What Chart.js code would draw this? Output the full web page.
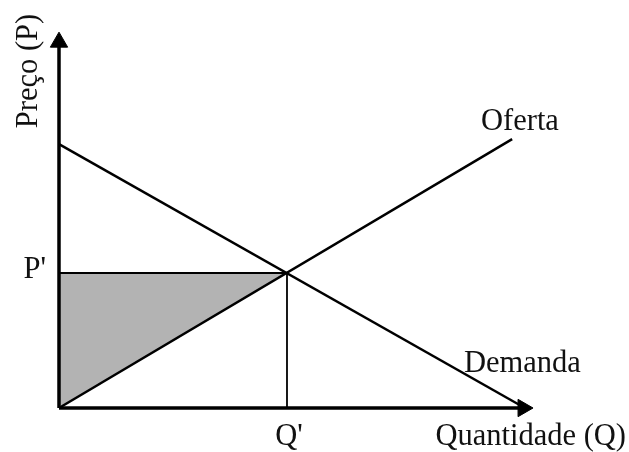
<!DOCTYPE html>
<html><head><meta charset="utf-8">
<script src="https://cdn.jsdelivr.net/npm/chart.js@4/dist/chart.umd.min.js"></script>
<style>html,body{margin:0;padding:0;background:#fff;overflow:hidden}</style>
</head><body>
<canvas id="c" width="629" height="452"></canvas>
<script>
// ---- data (axis units 0..100) ----
const equilibriumQ = 48.1;
const equilibriumP = 35.9;
const demandQ = [0, 98.3];
const demandP = [70.2, 0];
const supplyQ = [0, 95.6];
const supplyP = [0, 71.5];
const axisQ = [0, 97.9];   // x-axis line (arrow centre at end)
const axisP = [0, 97.3];   // y-axis line (arrow centre at end)
const axisLabels = {x: 'Quantidade (Q)', y: 'Preço (P)'};
const curveLabels = {supply: 'Oferta', demand: 'Demanda'};
const eqLabels = {p: "P'", q: "Q'"};

const pts = (xs, ys) => xs.map((x, i) => ({x, y: ys[i]}));

const textPlugin = {
  id: 'texts',
  afterDraw(chart) {
    const ctx = chart.ctx, xs = chart.scales.x, ys = chart.scales.y;
    const x0 = xs.getPixelForValue(0), y0 = ys.getPixelForValue(0);
    const qx = xs.getPixelForValue(equilibriumQ), py = ys.getPixelForValue(equilibriumP);
    ctx.save();
    ctx.fillStyle = '#111';
    ctx.font = '30.5px "Liberation Serif", "Times New Roman", serif';
    ctx.textBaseline = 'alphabetic';
    ctx.textAlign = 'right';
    ctx.fillText(eqLabels.p, x0 - 13, py + 5);
    ctx.textAlign = 'center';
    ctx.fillText(eqLabels.q, qx + 2, y0 + 37);
    ctx.textAlign = 'left';
    ctx.fillText(curveLabels.supply, 481, 130);
    ctx.fillText(curveLabels.demand, 464, 372);
    ctx.textAlign = 'right';
    ctx.fillText(axisLabels.x, 626, y0 + 37);
    ctx.save();
    ctx.translate(x0 - 22, 71);
    ctx.rotate(-Math.PI / 2);
    ctx.textAlign = 'center';
    ctx.fillText(axisLabels.y, 0, 0);
    ctx.restore();
    ctx.restore();
  }
};

new Chart(document.getElementById('c'), {
  type: 'line',
  data: {
    datasets: [
      { // x axis
        data: pts(axisQ, [0, 0]), borderColor: '#000', borderWidth: 3.5,
        pointRadius: [0, 10], pointStyle: 'triangle', pointRotation: 90,
        pointBackgroundColor: '#000', pointBorderColor: '#000', pointBorderWidth: 1, clip: false
      },
      { // y axis
        data: pts([0, 0], axisP), borderColor: '#000', borderWidth: 3.5,
        pointRadius: [0, 10], pointStyle: 'triangle', pointRotation: 0,
        pointBackgroundColor: '#000', pointBorderColor: '#000', pointBorderWidth: 1, clip: false
      },
      { // supply
        data: pts(supplyQ, supplyP), borderColor: '#000', borderWidth: 2.5, pointRadius: 0, clip: false
      },
      { // demand
        data: pts(demandQ, demandP), borderColor: '#000', borderWidth: 2.5, pointRadius: 0, clip: false
      },
      { // Q' vertical
        data: pts([equilibriumQ, equilibriumQ], [equilibriumP, 0]), borderColor: '#000', borderWidth: 1.8, pointRadius: 0, clip: false
      },
      { // P' horizontal, filled down to supply segment
        data: pts([0, equilibriumQ], [equilibriumP, equilibriumP]), borderColor: '#000', borderWidth: 2,
        pointRadius: 0, clip: false, fill: 6, backgroundColor: '#b3b3b3', order: 5
      },
      { // supply segment below equilibrium (fill base)
        data: pts([0, equilibriumQ], [0, equilibriumP]), borderColor: 'rgba(0,0,0,0)', borderWidth: 0,
        pointRadius: 0, clip: false, order: 6
      }
    ]
  },
  options: {
    responsive: false,
    animation: false,
    events: [],
    layout: {padding: {left: 59, right: 96, top: 32, bottom: 44}},
    scales: {
      x: {type: 'linear', min: 0, max: 100, display: false},
      y: {type: 'linear', min: 0, max: 100, display: false}
    },
    plugins: {legend: {display: false}, tooltip: {enabled: false}}
  },
  plugins: [textPlugin]
});
</script>
</body></html>
